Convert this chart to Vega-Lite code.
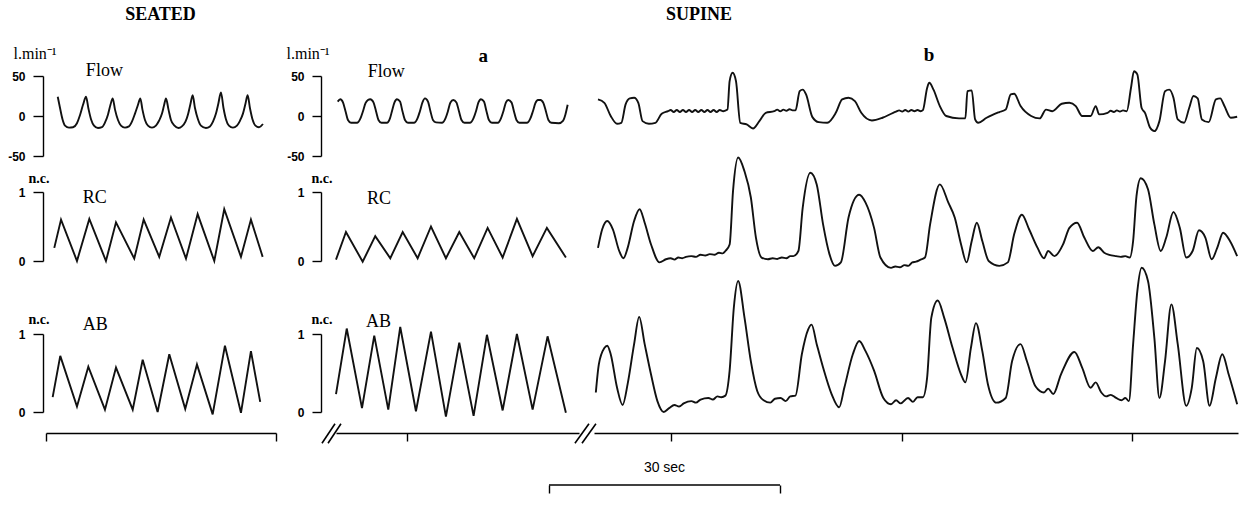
{
"$schema": "https://vega.github.io/schema/vega-lite/v6.json",
"background": "white",
"padding": {"left": 7, "top": 6, "right": 4, "bottom": 4},
"config": {
 "view": {"stroke": null},
 "axis": {"domainColor": "black", "tickColor": "black", "labelColor": "black", "titleColor": "black", "domainWidth": 1.4, "tickWidth": 1.4, "grid": false, "labelFont": "Liberation Sans", "labelFontWeight": "bold", "labelFontSize": 12, "titleFont": "Liberation Serif", "labelFlush": false, "labelOverlap": false},
 "title": {"font": "Liberation Serif", "fontWeight": "bold", "color": "black"},
 "line": {"color": "#111", "strokeWidth": 1.9, "interpolate": "monotone"},
 "text": {"font": "Liberation Serif", "fontSize": 18, "align": "left", "baseline": "middle", "color": "black"}
},
"datasets": {
 "seatedFlow": [{"t":1.53,"v":24},{"t":1.83,"v":10},{"t":2.15,"v":-4},{"t":2.48,"v":-12},{"t":3.0,"v":-14.5},{"t":3.52,"v":-14},{"t":4.04,"v":-9},{"t":4.43,"v":1},{"t":4.83,"v":14},{"t":5.22,"v":24},{"t":5.54,"v":9},{"t":5.87,"v":-4},{"t":6.26,"v":-12},{"t":6.78,"v":-15},{"t":7.3,"v":-14},{"t":7.7,"v":-8},{"t":8.09,"v":2},{"t":8.41,"v":14},{"t":8.7,"v":22},{"t":9.0,"v":8},{"t":9.39,"v":-5},{"t":9.78,"v":-12},{"t":10.3,"v":-14.5},{"t":10.82,"v":-13},{"t":11.21,"v":-7},{"t":11.61,"v":3},{"t":12.0,"v":14},{"t":12.3,"v":22},{"t":12.58,"v":8},{"t":12.91,"v":-5},{"t":13.3,"v":-12},{"t":13.82,"v":-14.5},{"t":14.34,"v":-12},{"t":14.74,"v":-6},{"t":15.13,"v":3},{"t":15.39,"v":13},{"t":15.65,"v":22},{"t":15.98,"v":8},{"t":16.3,"v":-5},{"t":16.76,"v":-12},{"t":17.28,"v":-15},{"t":17.73,"v":-13},{"t":18.19,"v":-7},{"t":18.52,"v":2},{"t":18.84,"v":15},{"t":19.13,"v":26},{"t":19.43,"v":10},{"t":19.82,"v":-4},{"t":20.21,"v":-12},{"t":20.86,"v":-15},{"t":21.39,"v":-13},{"t":21.78,"v":-7},{"t":22.17,"v":3},{"t":22.49,"v":16},{"t":22.82,"v":29.5},{"t":23.15,"v":10},{"t":23.47,"v":-4},{"t":23.86,"v":-12},{"t":24.38,"v":-14.5},{"t":24.91,"v":-12},{"t":25.3,"v":-6},{"t":25.69,"v":3},{"t":26.01,"v":15},{"t":26.3,"v":26},{"t":26.6,"v":10},{"t":26.93,"v":-4},{"t":27.32,"v":-12},{"t":27.78,"v":-14},{"t":28.3,"v":-10}],
 "seatedRC": [{"t":1.08,"v":0.19},{"t":1.96,"v":0.6},{"t":4.04,"v":0.0},{"t":5.65,"v":0.61},{"t":7.82,"v":0.0},{"t":9.13,"v":0.56},{"t":11.51,"v":0.035},{"t":12.74,"v":0.6},{"t":14.77,"v":0.06},{"t":16.3,"v":0.63},{"t":18.26,"v":0.035},{"t":19.78,"v":0.68},{"t":21.95,"v":0.0},{"t":23.25,"v":0.75},{"t":25.43,"v":0.06},{"t":26.73,"v":0.6},{"t":28.26,"v":0.06}],
 "seatedAB": [{"t":0.87,"v":0.19},{"t":1.86,"v":0.72},{"t":4.04,"v":0.07},{"t":5.52,"v":0.58},{"t":7.69,"v":0.03},{"t":9.13,"v":0.57},{"t":11.31,"v":0.03},{"t":12.61,"v":0.67},{"t":14.56,"v":0.0},{"t":16.08,"v":0.74},{"t":18.16,"v":0.04},{"t":19.69,"v":0.61},{"t":21.74,"v":-0.03},{"t":23.34,"v":0.85},{"t":25.43,"v":-0.01},{"t":26.73,"v":0.78},{"t":27.94,"v":0.13}],
 "supineAFlow": [{"t":0.22,"v":18},{"t":0.56,"v":21},{"t":0.91,"v":17},{"t":1.24,"v":6},{"t":1.56,"v":-5},{"t":1.96,"v":-8.5},{"t":2.74,"v":-8.5},{"t":3.19,"v":-3},{"t":3.52,"v":6},{"t":3.85,"v":16},{"t":4.17,"v":20},{"t":4.47,"v":21},{"t":4.89,"v":17},{"t":5.22,"v":6},{"t":5.54,"v":-5},{"t":5.93,"v":-8.5},{"t":6.65,"v":-8.5},{"t":7.04,"v":-3},{"t":7.3,"v":6},{"t":7.63,"v":17},{"t":7.95,"v":21},{"t":8.35,"v":18},{"t":8.67,"v":6},{"t":9.0,"v":-5},{"t":9.39,"v":-8.5},{"t":10.17,"v":-8.5},{"t":10.63,"v":-3},{"t":10.95,"v":6},{"t":11.28,"v":17},{"t":11.61,"v":22},{"t":12.0,"v":18},{"t":12.32,"v":6},{"t":12.65,"v":-5},{"t":13.04,"v":-8},{"t":13.82,"v":-8.5},{"t":14.28,"v":-3},{"t":14.6,"v":6},{"t":14.93,"v":17},{"t":15.3,"v":20},{"t":15.71,"v":17},{"t":16.04,"v":6},{"t":16.37,"v":-5},{"t":16.76,"v":-8.5},{"t":17.47,"v":-8.5},{"t":17.93,"v":-3},{"t":18.26,"v":6},{"t":18.58,"v":17},{"t":18.91,"v":21},{"t":19.3,"v":18},{"t":19.63,"v":6},{"t":19.95,"v":-5},{"t":20.34,"v":-8.5},{"t":21.13,"v":-8.5},{"t":21.52,"v":-3},{"t":21.84,"v":6},{"t":22.17,"v":17},{"t":22.47,"v":20},{"t":22.89,"v":17},{"t":23.21,"v":6},{"t":23.54,"v":-5},{"t":23.93,"v":-8.5},{"t":24.91,"v":-8.5},{"t":25.36,"v":-3},{"t":25.69,"v":6},{"t":26.01,"v":16},{"t":26.34,"v":20},{"t":26.67,"v":20},{"t":27.06,"v":16},{"t":27.38,"v":6},{"t":27.71,"v":-5},{"t":28.1,"v":-8.5},{"t":29.08,"v":-9},{"t":29.61,"v":-6},{"t":29.93,"v":2},{"t":30.22,"v":14}],
 "supineARC": [{"t":0.0,"v":0.02},{"t":1.3,"v":0.42},{"t":3.48,"v":-0.01},{"t":5.12,"v":0.36},{"t":7.08,"v":0.04},{"t":8.7,"v":0.42},{"t":10.65,"v":0.04},{"t":12.39,"v":0.5},{"t":14.34,"v":0.04},{"t":16.08,"v":0.42},{"t":18.03,"v":0.04},{"t":19.78,"v":0.48},{"t":21.74,"v":0.05},{"t":23.6,"v":0.61},{"t":25.65,"v":0.07},{"t":27.51,"v":0.48},{"t":29.99,"v":0.05}],
 "supineAAB": [{"t":0.0,"v":0.23},{"t":1.4,"v":1.07},{"t":3.39,"v":0.05},{"t":4.99,"v":0.98},{"t":6.82,"v":0.03},{"t":8.38,"v":1.09},{"t":10.43,"v":0.01},{"t":12.39,"v":1.03},{"t":14.34,"v":-0.06},{"t":16.08,"v":0.89},{"t":17.95,"v":-0.05},{"t":19.69,"v":0.99},{"t":21.74,"v":0.02},{"t":23.6,"v":1.0},{"t":25.65,"v":0.03},{"t":27.6,"v":0.97},{"t":29.99,"v":-0.01}],
 "supineBFlow": [{"t":0.52,"v":20.7},{"t":1.35,"v":16.5},{"t":2.18,"v":0},{"t":3.01,"v":-9.7},{"t":3.56,"v":-8.5},{"t":4.12,"v":14.5},{"t":4.67,"v":22},{"t":5.23,"v":22.8},{"t":5.78,"v":16.5},{"t":6.33,"v":-6.4},{"t":7.16,"v":-9.7},{"t":8.0,"v":-8.5},{"t":8.83,"v":2.8},{"t":9.66,"v":6},{"t":10.0,"v":7.5},{"t":10.4,"v":5},{"t":10.8,"v":7.5},{"t":11.2,"v":5},{"t":11.6,"v":7.5},{"t":12.0,"v":5},{"t":12.4,"v":7.5},{"t":12.8,"v":5},{"t":13.2,"v":7.5},{"t":13.6,"v":5},{"t":14.0,"v":7.5},{"t":14.4,"v":5},{"t":14.8,"v":7.5},{"t":15.2,"v":5},{"t":15.6,"v":7.5},{"t":16.0,"v":5},{"t":16.4,"v":7.5},{"t":16.86,"v":6},{"t":17.41,"v":8},{"t":17.69,"v":43.6},{"t":18.08,"v":54},{"t":18.52,"v":43.6},{"t":19.08,"v":-8.5},{"t":19.91,"v":-10.6},{"t":20.74,"v":-15.6},{"t":21.57,"v":-6.4},{"t":22.4,"v":4},{"t":23.51,"v":6},{"t":23.9,"v":8},{"t":24.3,"v":6},{"t":24.7,"v":8},{"t":25.1,"v":6.5},{"t":25.5,"v":8.5},{"t":25.9,"v":7},{"t":26.28,"v":7},{"t":26.83,"v":31},{"t":27.22,"v":33},{"t":27.66,"v":27},{"t":28.49,"v":-1.4},{"t":29.32,"v":-7.7},{"t":30.43,"v":-8.5},{"t":31.54,"v":4},{"t":32.37,"v":20.7},{"t":33.2,"v":22.8},{"t":34.03,"v":18.6},{"t":34.86,"v":4},{"t":36.25,"v":-5.6},{"t":37.63,"v":-2.2},{"t":39.02,"v":4},{"t":39.4,"v":5.5},{"t":39.8,"v":7},{"t":40.2,"v":5.5},{"t":40.6,"v":7.5},{"t":41.0,"v":5.5},{"t":41.4,"v":7.5},{"t":41.8,"v":6},{"t":42.2,"v":7.5},{"t":42.6,"v":6},{"t":42.9,"v":7.3},{"t":43.45,"v":35},{"t":43.73,"v":41.5},{"t":44.28,"v":33},{"t":45.11,"v":12.4},{"t":45.94,"v":0},{"t":47.61,"v":-3},{"t":48.44,"v":-3},{"t":48.71,"v":31},{"t":49.27,"v":32},{"t":49.71,"v":-4.3},{"t":50.1,"v":-8.5},{"t":51.21,"v":-2.2},{"t":52.87,"v":4.9},{"t":53.7,"v":8},{"t":54.36,"v":27},{"t":54.81,"v":27.8},{"t":55.64,"v":12.4},{"t":57.02,"v":0},{"t":58.13,"v":-3},{"t":58.96,"v":8},{"t":59.79,"v":6},{"t":61.01,"v":15.3},{"t":62.01,"v":16.5},{"t":62.84,"v":12.4},{"t":63.67,"v":0},{"t":64.78,"v":0},{"t":65.44,"v":12.4},{"t":65.89,"v":2},{"t":66.99,"v":4},{"t":67.4,"v":6.5},{"t":67.8,"v":5},{"t":68.2,"v":7},{"t":68.6,"v":5.5},{"t":69.0,"v":7},{"t":69.49,"v":6},{"t":70.04,"v":35},{"t":70.43,"v":56},{"t":70.87,"v":52},{"t":71.43,"v":10},{"t":71.87,"v":4},{"t":72.54,"v":-14.8},{"t":73.09,"v":-18.9},{"t":73.75,"v":-6.4},{"t":74.48,"v":31},{"t":75.03,"v":33},{"t":75.58,"v":22.8},{"t":76.14,"v":-4.3},{"t":76.97,"v":-8.5},{"t":77.63,"v":10},{"t":78.19,"v":25},{"t":78.74,"v":22},{"t":79.29,"v":-4.3},{"t":80.18,"v":-7.7},{"t":81.12,"v":20.7},{"t":81.68,"v":22},{"t":82.23,"v":12.4},{"t":83.06,"v":-2.2},{"t":83.89,"v":-1}],
 "supineBRC": [{"t":0.52,"v":0.19},{"t":1.07,"v":0.46},{"t":1.73,"v":0.58},{"t":2.46,"v":0.46},{"t":3.29,"v":0.145},{"t":3.84,"v":0.04},{"t":4.39,"v":0.19},{"t":5.23,"v":0.58},{"t":5.95,"v":0.75},{"t":6.61,"v":0.555},{"t":7.44,"v":0.24},{"t":8.55,"v":-0.02},{"t":9.38,"v":0.025},{"t":10.0,"v":0.04},{"t":10.5,"v":0.02},{"t":11.0,"v":0.05},{"t":11.5,"v":0.04},{"t":12.0,"v":0.06},{"t":12.7,"v":0.07},{"t":13.3,"v":0.06},{"t":13.9,"v":0.09},{"t":14.5,"v":0.08},{"t":15.1,"v":0.1},{"t":15.7,"v":0.09},{"t":16.3,"v":0.12},{"t":16.8,"v":0.11},{"t":17.14,"v":0.145},{"t":17.69,"v":0.24},{"t":18.13,"v":1.01},{"t":18.8,"v":1.5},{"t":19.63,"v":1.3},{"t":20.46,"v":0.92},{"t":21.12,"v":0.34},{"t":21.85,"v":0.05},{"t":22.68,"v":0.025},{"t":23.3,"v":0.04},{"t":23.9,"v":0.03},{"t":24.5,"v":0.05},{"t":25.1,"v":0.04},{"t":25.6,"v":0.07},{"t":26.0,"v":0.07},{"t":26.66,"v":0.145},{"t":27.22,"v":0.77},{"t":28.22,"v":1.28},{"t":29.05,"v":1.11},{"t":29.88,"v":0.53},{"t":30.71,"v":0.1},{"t":31.43,"v":-0.07},{"t":32.2,"v":-0.02},{"t":33.2,"v":0.63},{"t":34.59,"v":0.96},{"t":35.42,"v":0.845},{"t":36.53,"v":0.48},{"t":37.36,"v":0.05},{"t":38.74,"v":-0.1},{"t":39.3,"v":-0.08},{"t":39.9,"v":-0.09},{"t":40.5,"v":-0.06},{"t":41.0,"v":-0.07},{"t":41.51,"v":-0.02},{"t":42.0,"v":-0.01},{"t":42.6,"v":0.02},{"t":43.17,"v":0.05},{"t":43.84,"v":0.53},{"t":45.11,"v":1.11},{"t":46.22,"v":0.845},{"t":47.05,"v":0.63},{"t":47.88,"v":0.24},{"t":48.6,"v":-0.02},{"t":49.27,"v":0.29},{"t":49.93,"v":0.555},{"t":50.65,"v":0.29},{"t":51.48,"v":0.0},{"t":52.87,"v":-0.07},{"t":53.98,"v":-0.02},{"t":54.81,"v":0.39},{"t":55.81,"v":0.67},{"t":56.75,"v":0.46},{"t":57.86,"v":0.19},{"t":58.69,"v":0.04},{"t":59.24,"v":0.145},{"t":60.07,"v":0.07},{"t":61.18,"v":0.24},{"t":62.01,"v":0.48},{"t":63.01,"v":0.555},{"t":63.95,"v":0.34},{"t":65.06,"v":0.145},{"t":65.78,"v":0.2},{"t":66.55,"v":0.12},{"t":67.2,"v":0.09},{"t":68.1,"v":0.07},{"t":68.7,"v":0.06},{"t":69.3,"v":0.07},{"t":69.88,"v":0.05},{"t":70.32,"v":0.29},{"t":70.76,"v":0.94},{"t":71.32,"v":1.2},{"t":72.26,"v":1.04},{"t":73.09,"v":0.53},{"t":73.92,"v":0.145},{"t":74.64,"v":0.34},{"t":75.58,"v":0.71},{"t":76.41,"v":0.48},{"t":77.25,"v":0.05},{"t":78.08,"v":0.145},{"t":78.91,"v":0.445},{"t":79.74,"v":0.34},{"t":80.57,"v":0.025},{"t":81.29,"v":0.19},{"t":82.06,"v":0.41},{"t":82.95,"v":0.29},{"t":83.89,"v":0.07}],
 "supineBAB": [{"t":0.24,"v":0.25},{"t":0.63,"v":0.61},{"t":1.35,"v":0.82},{"t":1.73,"v":0.85},{"t":2.18,"v":0.74},{"t":3.01,"v":0.31},{"t":3.73,"v":0.09},{"t":4.39,"v":0.36},{"t":5.23,"v":0.87},{"t":5.89,"v":1.22},{"t":6.61,"v":0.87},{"t":7.44,"v":0.48},{"t":8.27,"v":0.14},{"t":9.1,"v":0.0},{"t":9.8,"v":0.05},{"t":10.49,"v":0.09},{"t":11.1,"v":0.07},{"t":11.7,"v":0.11},{"t":12.7,"v":0.14},{"t":13.3,"v":0.12},{"t":13.9,"v":0.16},{"t":14.92,"v":0.18},{"t":15.5,"v":0.16},{"t":16.1,"v":0.2},{"t":16.6,"v":0.19},{"t":17.14,"v":0.21},{"t":17.69,"v":0.53},{"t":18.24,"v":1.34},{"t":18.8,"v":1.68},{"t":19.63,"v":1.21},{"t":20.46,"v":0.65},{"t":21.29,"v":0.27},{"t":22.12,"v":0.15},{"t":23.0,"v":0.12},{"t":23.6,"v":0.17},{"t":24.34,"v":0.18},{"t":25.0,"v":0.14},{"t":25.6,"v":0.2},{"t":26.28,"v":0.21},{"t":27.11,"v":0.74},{"t":27.94,"v":1.06},{"t":28.38,"v":1.12},{"t":29.05,"v":0.87},{"t":29.88,"v":0.57},{"t":30.99,"v":0.23},{"t":31.98,"v":0.06},{"t":32.65,"v":0.31},{"t":33.76,"v":0.74},{"t":34.59,"v":0.91},{"t":35.42,"v":0.78},{"t":36.53,"v":0.53},{"t":37.74,"v":0.18},{"t":38.74,"v":0.1},{"t":39.4,"v":0.15},{"t":40.0,"v":0.11},{"t":40.96,"v":0.18},{"t":41.6,"v":0.13},{"t":42.2,"v":0.19},{"t":42.9,"v":0.19},{"t":43.45,"v":0.44},{"t":44.0,"v":1.21},{"t":44.84,"v":1.43},{"t":45.67,"v":1.21},{"t":46.78,"v":0.82},{"t":47.88,"v":0.48},{"t":48.44,"v":0.38},{"t":49.16,"v":0.82},{"t":49.82,"v":1.14},{"t":50.65,"v":0.78},{"t":51.37,"v":0.36},{"t":52.48,"v":0.12},{"t":53.7,"v":0.18},{"t":54.53,"v":0.65},{"t":55.64,"v":0.87},{"t":56.47,"v":0.65},{"t":57.58,"v":0.33},{"t":58.69,"v":0.25},{"t":59.24,"v":0.3},{"t":59.9,"v":0.23},{"t":60.9,"v":0.48},{"t":62.67,"v":0.77},{"t":63.67,"v":0.57},{"t":64.78,"v":0.31},{"t":65.44,"v":0.38},{"t":66.17,"v":0.25},{"t":66.8,"v":0.2},{"t":67.4,"v":0.22},{"t":68.1,"v":0.18},{"t":68.8,"v":0.15},{"t":69.3,"v":0.18},{"t":69.77,"v":0.14},{"t":70.32,"v":0.87},{"t":70.87,"v":1.55},{"t":71.43,"v":1.85},{"t":72.26,"v":1.68},{"t":73.09,"v":0.95},{"t":73.75,"v":0.18},{"t":74.48,"v":0.65},{"t":75.31,"v":1.38},{"t":76.14,"v":0.87},{"t":77.25,"v":0.08},{"t":77.97,"v":0.31},{"t":78.63,"v":0.82},{"t":79.46,"v":0.65},{"t":80.29,"v":0.08},{"t":81.12,"v":0.44},{"t":81.95,"v":0.74},{"t":82.79,"v":0.48},{"t":83.89,"v":0.1}]
},
"columns": 3,
"spacing": {"row": 0, "column": 15},
"bounds": "flush",
"concat": [
 {"width": 275, "height": 116,
  "title": {"text": "SEATED", "fontSize": 18, "anchor": "middle", "frame": "group", "dx": -23, "offset": 3, "baseline": "bottom"},
  "encoding": {
   "x": {"field": "t", "type": "quantitative", "scale": {"domain": [0, 30], "range": [0, 230], "nice": false, "zero": false}, "axis": null},
   "y": {"field": "v", "type": "quantitative", "scale": {"domain": [-50, 50], "range": [80, 0], "nice": false, "zero": false},
    "axis": {"values": [-50, 0, 50], "title": "l.min⁻¹", "titleAngle": 0, "titleAlign": "left", "titleBaseline": "middle", "titleX": -30, "titleY": -23, "titleFontSize": 16, "titleFontWeight": "normal", "offset": 3, "tickSize": 10, "labelPadding": 8, "labelExpr": "replace(datum.label, '−', '-')"}}},
  "layer": [
   {"data": {"name": "seatedFlow"}, "mark": {"type": "line"}},
   {"data": {"values": [{"label": "Flow", "t": 5.2, "v": 56}]}, "mark": {"type": "text"}, "encoding": {"text": {"field": "label"}}}
  ]},
 {"width": 243, "height": 116,
  "title": {"text": "SUPINE", "fontSize": 18, "anchor": "start", "frame": "group", "dx": 330, "offset": 3, "baseline": "bottom"},
  "encoding": {
   "x": {"field": "t", "type": "quantitative", "scale": {"domain": [0, 31.7], "range": [0, 243], "nice": false, "zero": false}, "axis": null},
   "y": {"field": "v", "type": "quantitative", "scale": {"domain": [-50, 50], "range": [80, 0], "nice": false, "zero": false},
    "axis": {"values": [-50, 0, 50], "title": "l.min⁻¹", "titleAngle": 0, "titleAlign": "left", "titleBaseline": "middle", "titleX": -35, "titleY": -23, "titleFontSize": 16, "titleFontWeight": "normal", "offset": 15, "tickSize": 9, "labelPadding": 8, "labelExpr": "replace(datum.label, '−', '-')"}}},
  "layer": [
   {"data": {"name": "supineAFlow"}, "mark": {"type": "line"}},
   {"data": {"values": [{"label": "Flow", "t": 4.13, "v": 55}]}, "mark": {"type": "text"}, "encoding": {"text": {"field": "label"}}},
   {"data": {"values": [{"label": "a", "t": 19.2, "v": 75}]}, "mark": {"type": "text", "fontWeight": "bold", "fontSize": 19, "align": "center"}, "encoding": {"text": {"field": "label"}}}
  ]},
 {"width": 644, "height": 116,
  "encoding": {
   "x": {"field": "t", "type": "quantitative", "scale": {"domain": [0, 84], "range": [0, 644], "nice": false, "zero": false}, "axis": null},
   "y": {"field": "v", "type": "quantitative", "scale": {"domain": [-50, 50], "range": [80, 0], "nice": false, "zero": false}, "axis": null}},
  "layer": [
   {"data": {"name": "supineBFlow"}, "mark": {"type": "line"}},
   {"data": {"values": [{"label": "b", "t": 43.7, "v": 76}]}, "mark": {"type": "text", "fontWeight": "bold", "fontSize": 19, "align": "center"}, "encoding": {"text": {"field": "label"}}}
  ]},
 {"width": 275, "height": 142,
  "encoding": {
   "x": {"field": "t", "type": "quantitative", "scale": {"domain": [0, 30], "range": [0, 230], "nice": false, "zero": false}, "axis": null},
   "y": {"field": "v", "type": "quantitative", "scale": {"domain": [0, 1], "range": [69, 0], "nice": false, "zero": false},
    "axis": {"values": [0, 1], "format": "d", "title": "n.c.", "titleAngle": 0, "titleAlign": "left", "titleBaseline": "middle", "titleX": -15, "titleY": -14, "titleFontSize": 14, "titleFontWeight": "bold", "offset": 3, "tickSize": 10, "labelPadding": 8}}},
  "layer": [
   {"data": {"name": "seatedRC"}, "mark": {"type": "line", "interpolate": "linear"}},
   {"data": {"values": [{"label": "RC", "t": 4.8, "v": 0.92}]}, "mark": {"type": "text"}, "encoding": {"text": {"field": "label"}}}
  ]},
 {"width": 243, "height": 142,
  "encoding": {
   "x": {"field": "t", "type": "quantitative", "scale": {"domain": [0, 31.7], "range": [0, 243], "nice": false, "zero": false}, "axis": null},
   "y": {"field": "v", "type": "quantitative", "scale": {"domain": [0, 1], "range": [69, 0], "nice": false, "zero": false},
    "axis": {"values": [0, 1], "format": "d", "title": "n.c.", "titleAngle": 0, "titleAlign": "left", "titleBaseline": "middle", "titleX": -10, "titleY": -14, "titleFontSize": 14, "titleFontWeight": "bold", "offset": 15, "tickSize": 9, "labelPadding": 8}}},
  "layer": [
   {"data": {"name": "supineARC"}, "mark": {"type": "line", "interpolate": "linear"}},
   {"data": {"values": [{"label": "RC", "t": 4.04, "v": 0.905}]}, "mark": {"type": "text"}, "encoding": {"text": {"field": "label"}}}
  ]},
 {"width": 644, "height": 142,
  "data": {"name": "supineBRC"}, "mark": {"type": "line"},
  "encoding": {
   "x": {"field": "t", "type": "quantitative", "scale": {"domain": [0, 84], "range": [0, 644], "nice": false, "zero": false}, "axis": null},
   "y": {"field": "v", "type": "quantitative", "scale": {"domain": [0, 1], "range": [69, 0], "nice": false, "zero": false}, "axis": null}}},
 {"width": 275, "height": 78,
  "encoding": {
   "x": {"field": "t", "type": "quantitative", "scale": {"domain": [0, 30], "range": [0, 230], "nice": false, "zero": false},
    "axis": {"values": [0, 30], "labels": false, "title": null, "tickSize": 8, "offset": 21}},
   "y": {"field": "v", "type": "quantitative", "scale": {"domain": [0, 1], "range": [78, 0], "nice": false, "zero": false},
    "axis": {"values": [0, 1], "format": "d", "title": "n.c.", "titleAngle": 0, "titleAlign": "left", "titleBaseline": "middle", "titleX": -15, "titleY": -15, "titleFontSize": 14, "titleFontWeight": "bold", "offset": 3, "tickSize": 10, "labelPadding": 8}}},
  "layer": [
   {"data": {"name": "seatedAB"}, "mark": {"type": "line", "interpolate": "linear"}},
   {"data": {"values": [{"label": "AB", "t": 4.8, "v": 1.12}]}, "mark": {"type": "text"}, "encoding": {"text": {"field": "label"}}}
  ]},
 {"width": 243, "height": 78,
  "encoding": {
   "x": {"field": "t", "type": "quantitative", "scale": {"domain": [0, 31.7], "range": [0, 243], "nice": false, "zero": false},
    "axis": {"values": [9.26], "labels": false, "title": null, "tickSize": 8, "offset": 21}},
   "y": {"field": "v", "type": "quantitative", "scale": {"domain": [0, 1], "range": [78, 0], "nice": false, "zero": false},
    "axis": {"values": [0, 1], "format": "d", "title": "n.c.", "titleAngle": 0, "titleAlign": "left", "titleBaseline": "middle", "titleX": -10, "titleY": -15, "titleFontSize": 14, "titleFontWeight": "bold", "offset": 15, "tickSize": 9, "labelPadding": 8}}},
  "layer": [
   {"data": {"name": "supineAAB"}, "mark": {"type": "line", "interpolate": "linear"}},
   {"data": {"values": [{"label": "AB", "t": 3.91, "v": 1.15}]}, "mark": {"type": "text"}, "encoding": {"text": {"field": "label"}}},
   {"data": {"values": [{"t": -1.83, "t2": -0.13, "v": -0.4, "v2": -0.15}, {"t": -1.04, "t2": 0.65, "v": -0.4, "v2": -0.15}, {"t": 31.17, "t2": 33.0, "v": -0.4, "v2": -0.15}, {"t": 32.09, "t2": 33.91, "v": -0.4, "v2": -0.15}]},
    "mark": {"type": "rule", "color": "black", "strokeWidth": 1.6},
    "encoding": {"x2": {"field": "t2"}, "y2": {"field": "v2"}}}
  ]},
 {"width": 644, "height": 78,
  "data": {"name": "supineBAB"}, "mark": {"type": "line"},
  "encoding": {
   "x": {"field": "t", "type": "quantitative", "scale": {"domain": [0, 84], "range": [0, 644], "nice": false, "zero": false},
    "axis": {"values": [10.1, 40.2, 70.2], "labels": false, "title": null, "tickSize": 8, "offset": 21}},
   "y": {"field": "v", "type": "quantitative", "scale": {"domain": [0, 1], "range": [78, 0], "nice": false, "zero": false}, "axis": null}}},
 {"width": 275, "height": 73,
  "encoding": {
   "x": {"field": "t", "type": "quantitative", "scale": {"domain": [0, 30], "range": [503, 734], "nice": false, "zero": false},
    "axis": {"values": [0, 30], "domain": false, "labels": false, "title": null, "tickSize": 8}},
   "y": {"field": "v", "type": "quantitative", "scale": {"domain": [0, 1], "range": [73, 56], "nice": false, "zero": false}, "axis": null}},
  "layer": [
   {"data": {"values": [{"t": 0, "t2": 30, "v": 0}]}, "mark": {"type": "rule", "color": "black", "strokeWidth": 1.4}, "encoding": {"x2": {"field": "t2"}}},
   {"data": {"values": [{"label": "30 sec", "t": 15, "v": 1}]}, "mark": {"type": "text", "font": "Liberation Sans", "fontSize": 14, "align": "center"}, "encoding": {"text": {"field": "label"}}}
  ]}
]
}
